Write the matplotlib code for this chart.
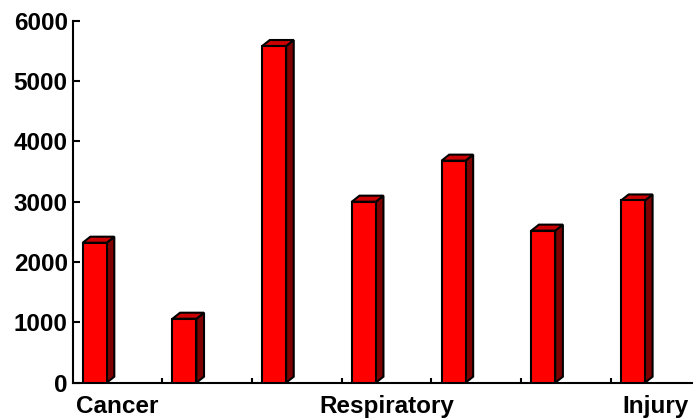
import matplotlib.pyplot as plt
from matplotlib.patches import Polygon

# bar heights per cause group, left to right
values = [2320, 1060, 5580, 3000, 3680, 2520, 3020]
group_labels = ["Cancer", "Respiratory", "Injury"]
label_slots = [0, 3, 6]
y_ticks = [0, 1000, 2000, 3000, 4000, 5000, 6000]

plt.rcParams['font.family'] = ['Liberation Sans', 'DejaVu Sans']

fig = plt.figure(figsize=(6.93, 4.2), dpi=100)
ax = fig.add_axes([72.5 / 693, 37.3 / 420, 628 / 693, 362 / 420])

# fake 3d: front face, darker side and top
bar_left = 0.114
bar_w = 0.267
dx = 0.085   # depth in x (data units)
dy = 100     # depth in y (data units)
front = '#ff0000'
side = '#800000'
top = '#cc0000'

for i, v in enumerate(values):
    x0 = i + bar_left
    x1 = x0 + bar_w
    ax.add_patch(Polygon([(x1, 0), (x1 + dx, dy), (x1 + dx, v + dy), (x1, v)],
                         closed=True, facecolor=side, edgecolor='black',
                         linewidth=1.5, zorder=2, clip_on=False))
    ax.add_patch(Polygon([(x0, v), (x0 + dx, v + dy), (x1 + dx, v + dy), (x1, v)],
                         closed=True, facecolor=top, edgecolor='black',
                         linewidth=1.5, zorder=2, clip_on=False))
    ax.bar(x0, v, width=bar_w, align='edge', color=front, edgecolor='black',
           linewidth=1.5, zorder=3)

ax.set_xlim(0, 7)
ax.set_ylim(0, 6000)

ax.set_yticks(y_ticks)
ax.set_yticklabels([str(t) for t in y_ticks], fontsize=17.5, fontweight='bold')
ax.tick_params(axis='y', direction='in', length=5, width=1.5, pad=3.5)

ax.set_xticks([s + 0.5 for s in label_slots])
ax.set_xticklabels(group_labels, fontsize=17.5, fontweight='bold')
ax.set_xticks(range(1, 7), minor=True)
ax.tick_params(axis='x', which='major', length=0, pad=9)
ax.tick_params(axis='x', which='minor', direction='in', length=3.5, width=1.5)

for s in ['top', 'right']:
    ax.spines[s].set_visible(False)
for s in ['left', 'bottom']:
    ax.spines[s].set_linewidth(1.5)

fig.savefig('out.png', dpi=100)
